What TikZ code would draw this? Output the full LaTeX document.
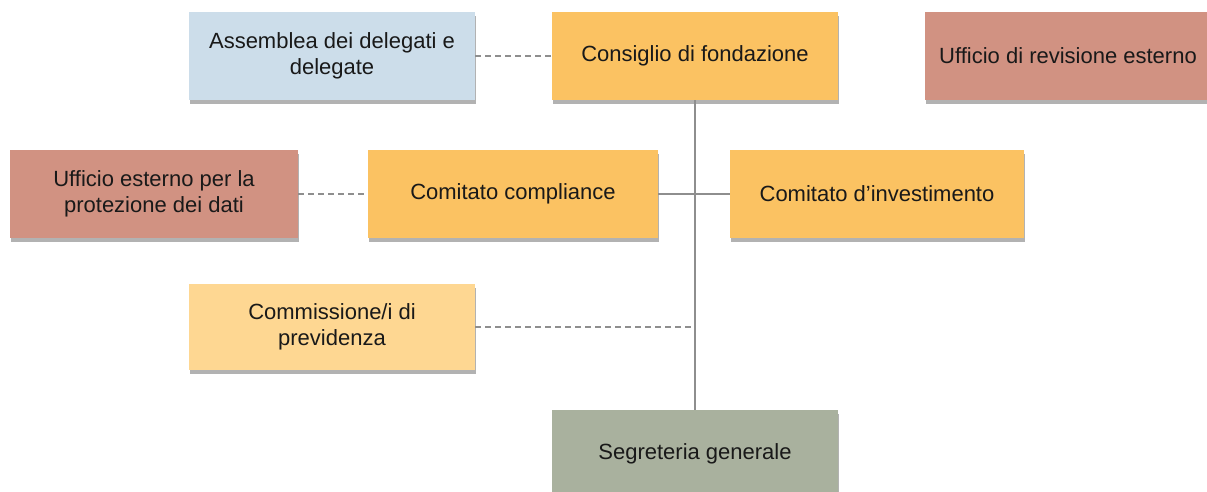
\documentclass[tikz,border=0pt]{standalone}
\usepackage{fontspec}
\setmainfont{Liberation Sans}
\usetikzlibrary{shadows}

\definecolor{bluebox}{HTML}{CCDDEA}
\definecolor{orangebox}{HTML}{FBC262}
\definecolor{redbox}{HTML}{D19282}
\definecolor{yellowbox}{HTML}{FED792}
\definecolor{greenbox}{HTML}{A9B19E}
\definecolor{linkgray}{HTML}{8E8E8E}

\begin{document}
\begin{tikzpicture}[x=1pt,y=-1pt]
  \tikzset{
    orgbox/.style={minimum width=286pt, minimum height=88pt, inner sep=0pt,
      align=center, font=\fontsize{22}{26}\selectfont, text=black!90,
      drop shadow={shadow xshift=1pt, shadow yshift=-4pt, fill=black, opacity=0.3}},
    solidlink/.style={draw=linkgray, line width=1.4pt},
    dashlink/.style={draw=linkgray, line width=1.4pt, dash pattern=on 6pt off 4pt}
  }
  \useasboundingbox (0,0) rectangle (1207,492);
  % top row
  \node [orgbox, fill=bluebox] (assemblea) at (332,56) {Assemblea dei delegati e\\delegate};
  \node [orgbox, fill=orangebox] (consiglio) at (695,56) {Consiglio di fondazione};
  \node [orgbox, fill=redbox] (revisione) at (1068,56) {Ufficio di revisione esterno};
  % middle row
  \node [orgbox, fill=redbox, minimum width=288pt] (datiext) at (154,194) {Ufficio esterno per la\\protezione dei dati};
  \node [orgbox, fill=orangebox, minimum width=290pt] (compliance) at (513,194) {Comitato compliance};
  \node [orgbox, fill=orangebox, minimum width=294pt] (investimento) at (877,194) {Comitato d’investimento};
  % lower rows
  \node [orgbox, fill=yellowbox, minimum height=86pt] (commissione) at (332,327) {Commissione/i di\\previdenza};
  \node [orgbox, fill=greenbox] (segreteria) at (695,454) {Segreteria generale};
  % links
  \draw [solidlink] (consiglio.south) -- (segreteria.north);
  \draw [solidlink] (compliance.east) -- (investimento.west);
  \draw [dashlink] (assemblea.east) -- (consiglio.west);
  \draw [dashlink] (datiext.east) -- (compliance.west);
  \coordinate (commjoin) at (commissione.east -| consiglio.south);
  \draw [dashlink] (commissione.east) -- (commjoin);
\end{tikzpicture}
\end{document}
